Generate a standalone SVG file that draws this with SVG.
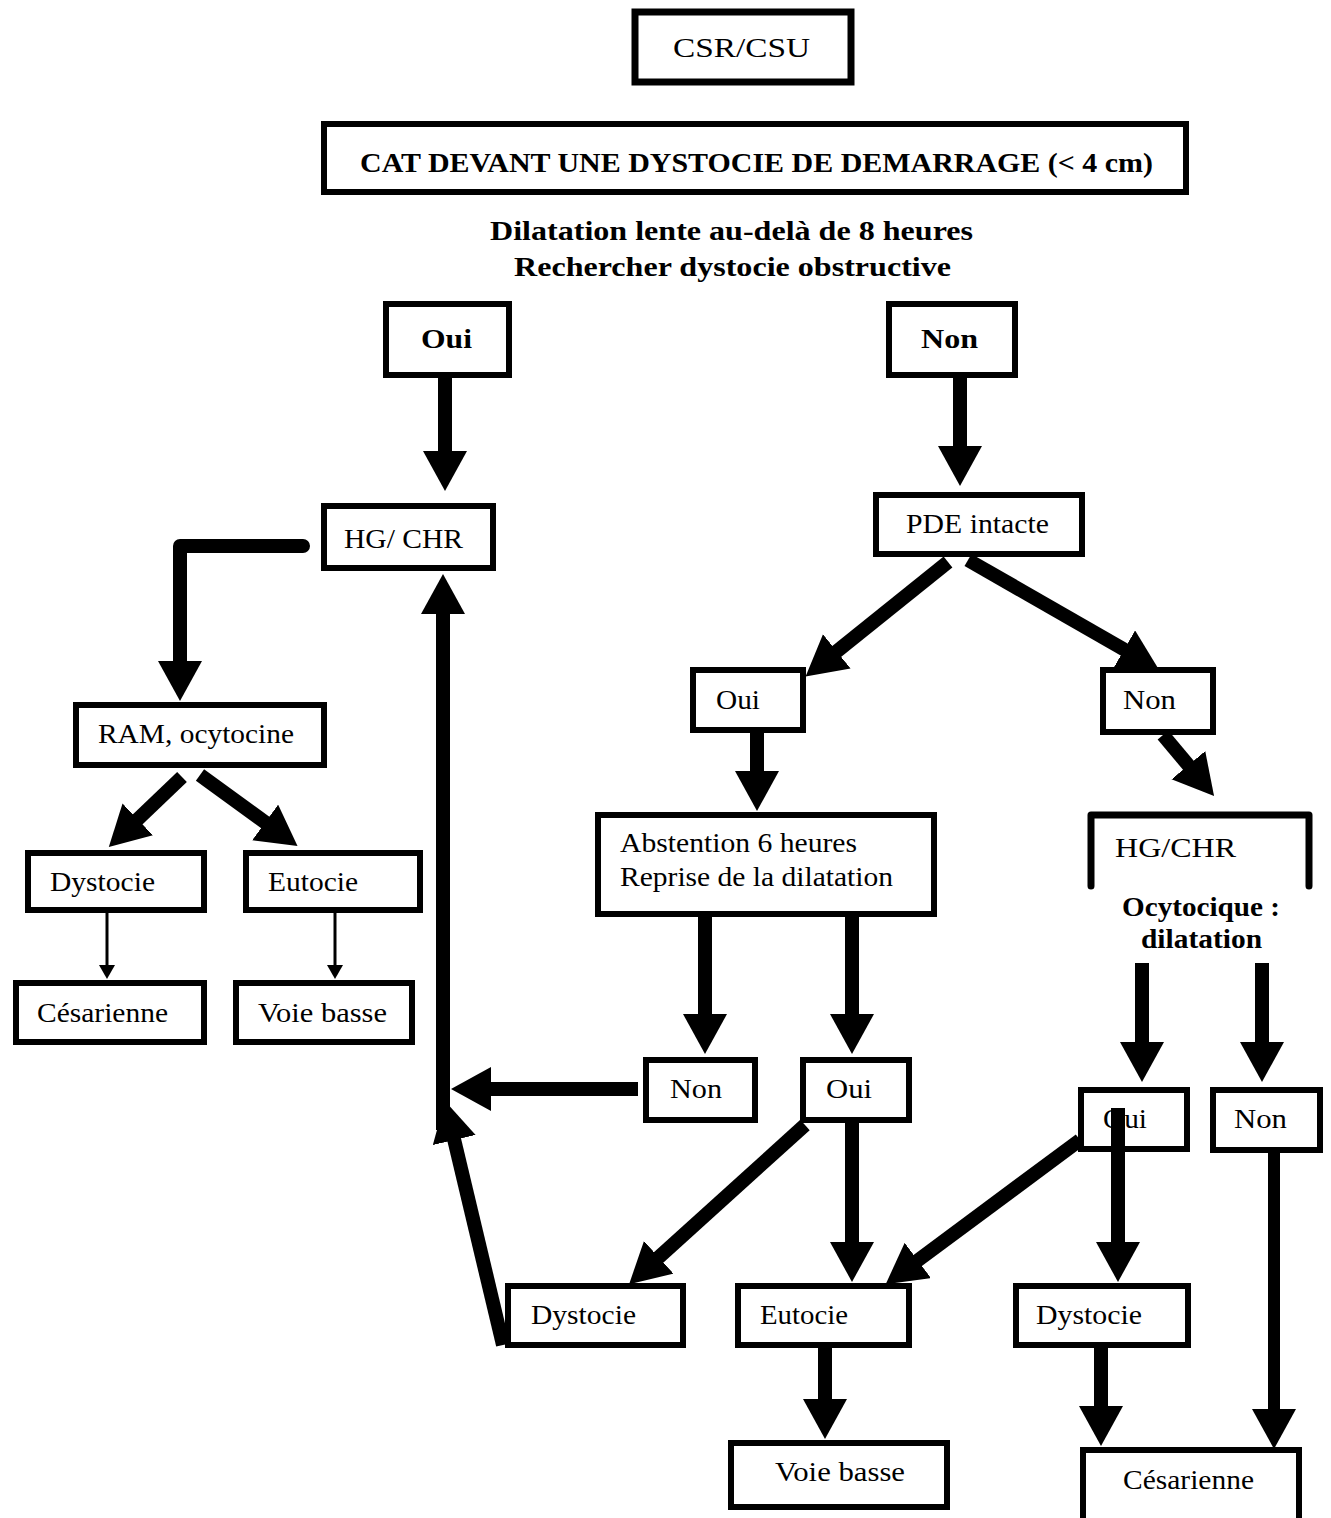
<svg xmlns="http://www.w3.org/2000/svg" width="1331" height="1518" viewBox="0 0 1331 1518">
  <style>
    .box { fill: #fff; stroke: #000; stroke-width: 6; }
    .lbl { font-family: 'Liberation Serif', 'Times New Roman', Times, serif; font-size: 28px; fill: #000; }
    .bold { font-weight: bold; }
    .thick { fill: none; stroke: #000; stroke-width: 14; marker-end: url(#headL); }
    .thin { fill: none; stroke: #000; stroke-width: 3; marker-end: url(#headS); }
  </style>
  <defs>
    <marker id="headL" markerUnits="userSpaceOnUse" markerWidth="42" markerHeight="46" refX="1" refY="22" orient="auto">
      <path d="M0,0 L40,22 L0,44 Z" fill="#000"/>
    </marker>
    <marker id="headS" markerUnits="userSpaceOnUse" markerWidth="16" markerHeight="18" refX="1" refY="8" orient="auto">
      <path d="M0,0 L14,8 L0,16 Z" fill="#000"/>
    </marker>
  </defs>
  <rect width="1331" height="1518" fill="#fff"/>

  <!-- headings -->
  <g id="n-csr">
    <rect class="box" x="635" y="12" width="216" height="70" style="stroke-width:7"/>
    <text class="lbl" x="673" y="57" font-size="38" textLength="137" lengthAdjust="spacingAndGlyphs">CSR/CSU</text>
  </g>
  <g id="n-cat">
    <rect class="box" x="324" y="124" width="862" height="68"/>
    <text class="lbl bold" x="360" y="172" font-size="32" textLength="793" lengthAdjust="spacingAndGlyphs">CAT DEVANT UNE DYSTOCIE DE DEMARRAGE (&lt; 4 cm)</text>
  </g>
  <g id="n-question">
    <text class="lbl bold" x="490" y="240" font-size="34" textLength="483" lengthAdjust="spacingAndGlyphs">Dilatation lente au-delà de 8 heures</text>
    <text class="lbl bold" x="514" y="276" font-size="34" textLength="437" lengthAdjust="spacingAndGlyphs">Rechercher dystocie obstructive</text>
  </g>
  <g id="n-oui-top">
    <rect class="box" x="386" y="304" width="123" height="71"/>
    <text class="lbl bold" x="421" y="348" font-size="36" textLength="51" lengthAdjust="spacingAndGlyphs">Oui</text>
  </g>
  <g id="n-non-top">
    <rect class="box" x="889" y="304" width="126" height="71"/>
    <text class="lbl bold" x="921" y="348" font-size="36" textLength="57" lengthAdjust="spacingAndGlyphs">Non</text>
  </g>

  <!-- left branch -->
  <g id="n-hg-chr">
    <rect class="box" x="324" y="506" width="169" height="62"/>
    <text class="lbl" x="344" y="548" textLength="119" lengthAdjust="spacingAndGlyphs">HG/ CHR</text>
  </g>
  <g id="n-ram">
    <rect class="box" x="76" y="705" width="248" height="60"/>
    <text class="lbl" x="98" y="743" font-size="29" textLength="196" lengthAdjust="spacingAndGlyphs">RAM, ocytocine</text>
  </g>
  <g id="n-dystocie-l">
    <rect class="box" x="28" y="853" width="176" height="57"/>
    <text class="lbl" x="50" y="891" textLength="105" lengthAdjust="spacingAndGlyphs">Dystocie</text>
  </g>
  <g id="n-eutocie-l">
    <rect class="box" x="246" y="853" width="174" height="57"/>
    <text class="lbl" x="268" y="891" textLength="90" lengthAdjust="spacingAndGlyphs">Eutocie</text>
  </g>
  <g id="n-cesarienne-l">
    <rect class="box" x="16" y="983" width="188" height="59"/>
    <text class="lbl" x="37" y="1022" textLength="131" lengthAdjust="spacingAndGlyphs">Césarienne</text>
  </g>
  <g id="n-voie-basse-l">
    <rect class="box" x="236" y="983" width="176" height="59"/>
    <text class="lbl" x="258" y="1022" textLength="129" lengthAdjust="spacingAndGlyphs">Voie basse</text>
  </g>

  <!-- right branch -->
  <g id="n-pde">
    <rect class="box" x="876" y="495" width="206" height="59"/>
    <text class="lbl" x="906" y="533" textLength="143" lengthAdjust="spacingAndGlyphs">PDE intacte</text>
  </g>
  <g id="n-pde-oui">
    <rect class="box" x="693" y="670" width="110" height="60"/>
    <text class="lbl" x="716" y="709" textLength="44" lengthAdjust="spacingAndGlyphs">Oui</text>
  </g>
  <g id="n-pde-non">
    <rect class="box" x="1103" y="670" width="110" height="62"/>
    <text class="lbl" x="1123" y="709" textLength="53" lengthAdjust="spacingAndGlyphs">Non</text>
  </g>
  <g id="n-abstention">
    <rect class="box" x="598" y="815" width="336" height="99"/>
    <text class="lbl" x="620" y="852" textLength="237" lengthAdjust="spacingAndGlyphs">Abstention 6 heures</text>
    <text class="lbl" x="620" y="886" textLength="273" lengthAdjust="spacingAndGlyphs">Reprise de la dilatation</text>
  </g>
  <g id="n-hg-chr-r">
    <path d="M1091,886 V815 H1309 V886" fill="none" stroke="#000" stroke-width="7" stroke-linejoin="round" stroke-linecap="round"/>
    <text class="lbl" x="1115" y="857" font-size="30" textLength="121" lengthAdjust="spacingAndGlyphs">HG/CHR</text>
    <text class="lbl bold" x="1122" y="916" font-size="28" textLength="158" lengthAdjust="spacingAndGlyphs">Ocytocique :</text>
    <text class="lbl bold" x="1141" y="948" font-size="28" textLength="121" lengthAdjust="spacingAndGlyphs">dilatation</text>
  </g>
  <g id="n-abst-non">
    <rect class="box" x="646" y="1060" width="109" height="60"/>
    <text class="lbl" x="670" y="1098" textLength="52" lengthAdjust="spacingAndGlyphs">Non</text>
  </g>
  <g id="n-abst-oui">
    <rect class="box" x="803" y="1060" width="106" height="60"/>
    <text class="lbl" x="826" y="1098" textLength="46" lengthAdjust="spacingAndGlyphs">Oui</text>
  </g>
  <g id="n-ocy-oui">
    <rect class="box" x="1081" y="1090" width="106" height="59"/>
    <text class="lbl" x="1103" y="1128" textLength="44" lengthAdjust="spacingAndGlyphs">Oui</text>
  </g>
  <g id="n-ocy-non">
    <rect class="box" x="1213" y="1090" width="107" height="60"/>
    <text class="lbl" x="1234" y="1128" textLength="53" lengthAdjust="spacingAndGlyphs">Non</text>
  </g>
  <g id="n-dystocie-b">
    <rect class="box" x="508" y="1286" width="175" height="59"/>
    <text class="lbl" x="531" y="1324" textLength="105" lengthAdjust="spacingAndGlyphs">Dystocie</text>
  </g>
  <g id="n-eutocie-b">
    <rect class="box" x="738" y="1286" width="171" height="59"/>
    <text class="lbl" x="760" y="1324" textLength="88" lengthAdjust="spacingAndGlyphs">Eutocie</text>
  </g>
  <g id="n-dystocie-r">
    <rect class="box" x="1016" y="1286" width="172" height="59"/>
    <text class="lbl" x="1036" y="1324" textLength="106" lengthAdjust="spacingAndGlyphs">Dystocie</text>
  </g>
  <g id="n-voie-basse-b">
    <rect class="box" x="731" y="1443" width="216" height="64"/>
    <text class="lbl" x="775" y="1481" textLength="130" lengthAdjust="spacingAndGlyphs">Voie basse</text>
  </g>
  <g id="n-cesarienne-b">
    <rect class="box" x="1083" y="1450" width="216" height="74"/>
    <text class="lbl" x="1123" y="1489" textLength="131" lengthAdjust="spacingAndGlyphs">Césarienne</text>
  </g>

  <!-- connectors -->
  <g id="connectors">
    <line class="thick" x1="445" y1="378" x2="445" y2="452"/>
    <line class="thick" x1="960" y1="378" x2="960" y2="447"/>
    <polyline class="thick" points="303,546 180,546 180,662" stroke-linecap="round" stroke-linejoin="round"/>
    <line class="thick" x1="443" y1="1130" x2="443" y2="613"/>
    <line class="thick" x1="638" y1="1089" x2="490" y2="1089"/>
    <line class="thick" x1="503" y1="1345" x2="454" y2="1139"/>
    <line class="thick" x1="182" y1="777" x2="137" y2="820"/>
    <line class="thick" x1="200" y1="775" x2="266" y2="823"/>
    <line class="thin" x1="107" y1="913" x2="107" y2="966"/>
    <line class="thin" x1="335" y1="913" x2="335" y2="966"/>
    <line class="thick" x1="948" y1="562" x2="836" y2="652"/>
    <line class="thick" x1="968" y1="560" x2="1125" y2="650"/>
    <line class="thick" x1="757" y1="733" x2="757" y2="772"/>
    <line class="thick" x1="1163" y1="735" x2="1189" y2="766"/>
    <line class="thick" x1="705" y1="917" x2="705" y2="1015"/>
    <line class="thick" x1="852" y1="917" x2="852" y2="1015"/>
    <line class="thick" x1="1142" y1="963" x2="1142" y2="1043"/>
    <line class="thick" x1="1262" y1="963" x2="1262" y2="1043"/>
    <line class="thick" x1="805" y1="1125" x2="658" y2="1258"/>
    <line class="thick" x1="852" y1="1123" x2="852" y2="1243"/>
    <line class="thick" x1="1080" y1="1140" x2="917" y2="1261"/>
    <line class="thick" x1="1118" y1="1108" x2="1118" y2="1243"/>
    <line class="thick" x1="1274" y1="1153" x2="1274" y2="1410" style="stroke-width:12"/>
    <line class="thick" x1="825" y1="1348" x2="825" y2="1400"/>
    <line class="thick" x1="1101" y1="1348" x2="1101" y2="1407"/>
  </g>
</svg>
